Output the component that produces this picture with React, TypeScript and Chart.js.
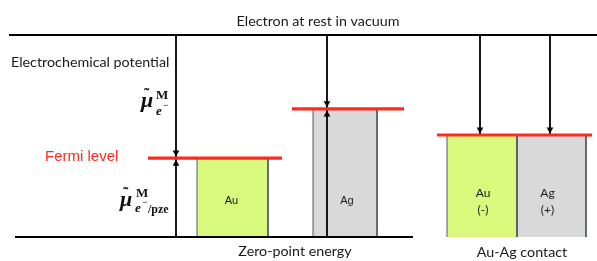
import React, { useEffect, useRef } from 'react';
import { Chart, registerables } from 'chart.js';

Chart.register(...registerables);

// Energy scale: zero-point energy = 0, electron at rest in vacuum = 100
const VACUUM_LEVEL = 100;
const ZERO_POINT = 0;

const isolatedMetals = ['Au', 'Ag'];
const isolatedFermi = [39, 63.4];

const contactMetals = ['Au', 'Ag'];
const contactCharges = ['(-)', '(+)'];
const contactFermi = 50.5;

const metalColors: Record<string, string> = { Au: '#d9f97c', Ag: '#d9d9d9' };

// Horizontal layout (x-axis units)
const isolatedBoxX = [[197, 268], [313, 377]];
const isolatedFermiX = [[148, 282], [292, 404]];
const isolatedArrowX = [176, 327];
const contactBoxX = [[447, 517], [517, 586]];
const contactFermiX = [437, 592];
const contactArrowX = [480, 550];
const vacuumX = [9, 597];
const zeroX = [15, 413];

const X_MIN = 0;
const X_MAX = 597;
const Y_MAX = 117.33;
const Y_MIN = -11.88;

const RED = '#ff2a1f';
const BOX_EDGE = '#4f5b66';

const line = (pts: { x: number; y: number }[], color: string, width: number, order: number, extra: any = {}) => ({
  data: pts,
  showLine: true,
  borderColor: color,
  borderWidth: width,
  pointRadius: 0,
  fill: false,
  order,
  ...extra,
});

function buildDatasets() {
  const ds: any[] = [];
  const boxes: { x: number[]; top: number; color: string }[] = [];
  isolatedMetals.forEach((m, i) => boxes.push({ x: isolatedBoxX[i], top: isolatedFermi[i], color: metalColors[m] }));
  contactMetals.forEach((m, i) => boxes.push({ x: contactBoxX[i], top: contactFermi, color: metalColors[m] }));
  boxes.forEach((b) => {
    ds.push(
      line(
        [
          { x: b.x[0], y: b.top },
          { x: b.x[1], y: b.top },
        ],
        'rgba(0,0,0,0)',
        0,
        6,
        { fill: 'origin', backgroundColor: b.color }
      )
    );
    ds.push(
      line(
        [
          { x: b.x[0], y: ZERO_POINT },
          { x: b.x[0], y: b.top },
          { x: b.x[1], y: b.top },
          { x: b.x[1], y: ZERO_POINT },
        ],
        BOX_EDGE,
        1,
        5
      )
    );
  });
  // arrows (shafts)
  isolatedArrowX.forEach((x, i) => {
    ds.push(line([{ x, y: VACUUM_LEVEL }, { x, y: isolatedFermi[i] }], '#000', 1.8, 4));
    ds.push(line([{ x, y: ZERO_POINT }, { x, y: isolatedFermi[i] }], '#000', 1.8, 4));
  });
  contactArrowX.forEach((x) => {
    ds.push(line([{ x, y: VACUUM_LEVEL }, { x, y: contactFermi }], '#000', 1.8, 4));
  });
  // reference levels
  ds.push(line([{ x: vacuumX[0], y: VACUUM_LEVEL }, { x: vacuumX[1], y: VACUUM_LEVEL }], '#000', 2.2, 3));
  ds.push(line([{ x: zeroX[0], y: ZERO_POINT }, { x: zeroX[1], y: ZERO_POINT }], '#000', 2.2, 3));
  // Fermi levels
  isolatedFermi.forEach((f, i) => {
    ds.push(line([{ x: isolatedFermiX[i][0], y: f }, { x: isolatedFermiX[i][1], y: f }], RED, 3.2, 1));
  });
  ds.push(line([{ x: contactFermiX[0], y: contactFermi }, { x: contactFermiX[1], y: contactFermi }], RED, 3.2, 1));
  return ds;
}

const arrowHeads = {
  id: 'arrowHeads',
  afterDatasetsDraw(chart: any) {
    const { ctx, scales } = chart;
    const xs = scales.x;
    const ys = scales.y;
    const head = (x: number, tip: number, dir: number) => {
      ctx.beginPath();
      ctx.moveTo(x, tip);
      ctx.lineTo(x - 3.3, tip - dir * 6);
      ctx.lineTo(x + 3.3, tip - dir * 6);
      ctx.closePath();
      ctx.fill();
    };
    ctx.save();
    ctx.fillStyle = '#000';
    isolatedArrowX.forEach((x, i) => {
      const px = xs.getPixelForValue(x);
      const fy = ys.getPixelForValue(isolatedFermi[i]);
      head(px, fy - 1.6, 1);
      head(px, fy + 1.6, -1);
    });
    contactArrowX.forEach((x) => {
      const px = xs.getPixelForValue(x);
      const fy = ys.getPixelForValue(contactFermi);
      head(px, fy - 1.6, 1);
    });
    ctx.restore();
  },
};

const drawMu = (ctx: CanvasRenderingContext2D, x: number, y: number) => {
  ctx.font = 'bold italic 22px "Liberation Serif"';
  ctx.fillText('\u03bc', x, y);
  ctx.font = 'bold 16px "Liberation Serif"';
  ctx.fillText('\u02dc', x + 3, y - 7);
};

const labels = {
  id: 'labels',
  afterDraw(chart: any) {
    const { ctx } = chart;
    ctx.save();
    ctx.textBaseline = 'alphabetic';
    ctx.fillStyle = '#1a1a1a';
    ctx.font = '14.3px Lato';
    ctx.textAlign = 'center';
    ctx.fillText('Electron at rest in vacuum', 318, 26);
    ctx.fillText('Zero-point energy', 295, 256);
    ctx.fillText('Au-Ag contact', 522, 257);
    ctx.textAlign = 'left';
    ctx.fillText('Electrochemical potential', 11, 67);

    ctx.fillStyle = RED;
    ctx.font = '15px "Liberation Sans"';
    ctx.fillText('Fermi level', 45, 161);

    // box labels
    ctx.fillStyle = '#1a1a1a';
    ctx.textAlign = 'center';
    ctx.font = '11px "Liberation Sans"';
    const xs = chart.scales.x;
    isolatedMetals.forEach((m, i) => {
      const cx = xs.getPixelForValue((isolatedBoxX[i][0] + isolatedBoxX[i][1]) / 2);
      ctx.fillText(m, cx + (i === 1 ? 2 : -1), 204);
    });
    ctx.font = '12px Lato';
    contactMetals.forEach((m, i) => {
      const cx = xs.getPixelForValue((contactBoxX[i][0] + contactBoxX[i][1]) / 2);
      ctx.fillText(m, cx + (i === 0 ? 1 : -4), 197);
      ctx.fillText(contactCharges[i], cx + (i === 0 ? 1 : -4), 214);
    });

    // math labels
    ctx.fillStyle = '#111';
    ctx.textAlign = 'left';
    drawMu(ctx, 141, 107);
    ctx.font = 'bold 13px "Liberation Serif"';
    ctx.fillText('M', 156, 99);
    ctx.font = 'bold italic 13px "Liberation Serif"';
    ctx.fillText('e', 156, 115);
    ctx.font = 'bold 9px "Liberation Serif"';
    ctx.fillText('\u2212', 163, 108);

    drawMu(ctx, 120, 206);
    ctx.font = 'bold 13px "Liberation Serif"';
    ctx.fillText('M', 136, 197);
    ctx.font = 'bold italic 13px "Liberation Serif"';
    ctx.fillText('e', 135, 212);
    ctx.font = 'bold 9px "Liberation Serif"';
    ctx.fillText('\u2212', 142, 205);
    ctx.font = 'bold 12px "Liberation Serif"';
    ctx.fillText('/pze', 148, 213);
    ctx.restore();
  },
};

export default function App() {
  const ref = useRef<HTMLCanvasElement | null>(null);
  useEffect(() => {
    document.body.style.margin = '0';
    document.body.style.background = '#fff';
    const canvas = ref.current!;
    const chart = new Chart(canvas, {
      type: 'scatter',
      data: { datasets: buildDatasets() },
      options: {
        responsive: false,
        animation: false,
        devicePixelRatio: 1,
        layout: { padding: 0 },
        plugins: { legend: { display: false }, tooltip: { enabled: false } },
        scales: {
          x: { type: 'linear', display: false, min: X_MIN, max: X_MAX },
          y: { type: 'linear', display: false, min: Y_MIN, max: Y_MAX },
        },
        elements: { point: { radius: 0 } },
      },
      plugins: [arrowHeads, labels],
    } as any);
    return () => chart.destroy();
  }, []);
  return <canvas ref={ref} width={597} height={261} style={{ display: 'block', background: '#fff' }} />;
}
